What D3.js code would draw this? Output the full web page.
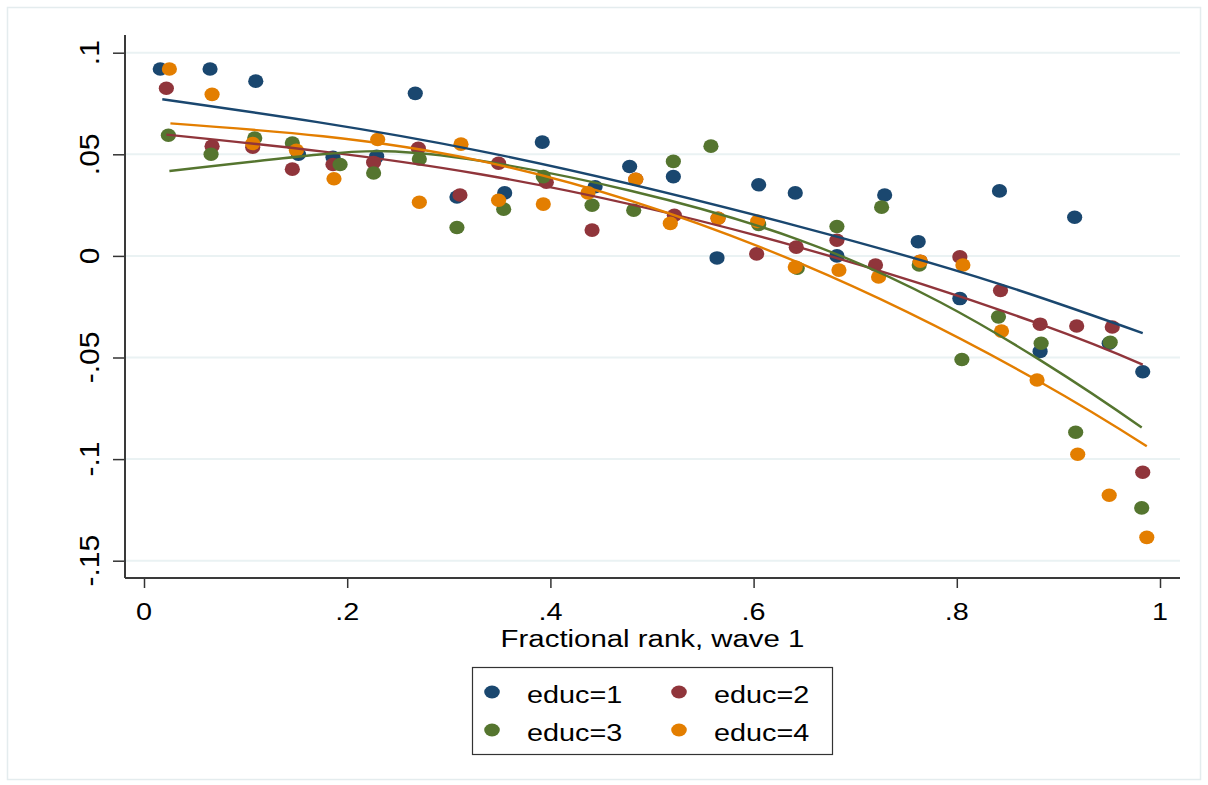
<!DOCTYPE html>
<html>
<head>
<meta charset="utf-8">
<script src="https://cdn.jsdelivr.net/npm/d3@7"></script>
<style>
  html, body { margin: 0; padding: 0; background: #fff; }
  svg { display: block; font-family: "Liberation Sans", Arial, sans-serif; }
</style>
</head>
<body>
<svg id="chart" width="1208" height="785"></svg>
<script>
// binned means by fractional rank, one array per education group
const educ1 = [[.016,.092],[.065,.092],[.110,.086],[.152,.050],[.186,.0485],[.229,.049],[.267,.080],[.308,.029],[.355,.031],[.392,.056],[.444,.034],[.478,.044],[.521,.039],[.564,-.001],[.605,.035],[.641,.031],[.682,.000],[.729,.030],[.762,.007],[.803,-.021],[.842,.032],[.882,-.047],[.916,.019],[.950,-.043],[.983,-.057]];
const educ2 = [[.022,.0825],[.067,.054],[.107,.0535],[.146,.0427],[.186,.045],[.226,.046],[.270,.053],[.311,.030],[.349,.0456],[.396,.0363],[.441,.0127],[.484,.0377],[.522,.020],[.565,.0185],[.603,.001],[.642,.0043],[.682,.0077],[.720,-.0045],[.764,-.0026],[.803,-.0005],[.843,-.017],[.882,-.0336],[.918,-.0345],[.953,-.035],[.983,-.1065]];
const educ3 = [[.024,.0594],[.066,.050],[.109,.058],[.146,.0555],[.193,.045],[.226,.0408],[.271,.0477],[.308,.014],[.354,.023],[.393,.039],[.441,.0249],[.482,.0225],[.521,.0465],[.558,.054],[.605,.0155],[.643,-.006],[.682,.0145],[.726,.024],[.763,-.0045],[.805,-.051],[.841,-.030],[.883,-.043],[.917,-.0868],[.951,-.0425],[.982,-.124]];
const educ4 = [[.025,.092],[.067,.0795],[.107,.0553],[.150,.052],[.187,.038],[.230,.0573],[.271,.0264],[.312,.055],[.349,.0274],[.393,.0255],[.437,.031],[.484,.0377],[.518,.016],[.565,.0185],[.604,.017],[.641,-.0055],[.684,-.007],[.723,-.0104],[.764,-.0026],[.806,-.0045],[.844,-.037],[.879,-.0611],[.919,-.0976],[.950,-.1178],[.987,-.1385]];

const fit1 = [[.018,.0771],[.33,.0517],[.646,.0143],[.843,-.0140],[.983,-.038]];
const fit2 = [[.022,.0597],[.331,.0402],[.646,.0041],[.882,-.0336],[.983,-.0535]];
const fit3 = [[.025,.0418],[.173,.0499],[.331,.0468],[.646,.0077],[.882,-.0513],[.982,-.0845]];
const fit4 = [[.026,.0652],[.331,.0468],[.646,-.0037],[.879,-.0612],[.987,-.0937]];

const labels = ["educ=1", "educ=2", "educ=3", "educ=4"];
const xTicks = [0, .2, .4, .6, .8, 1];
const xTickLabels = ["0", ".2", ".4", ".6", ".8", "1"];
const yTicks = [.1, .05, 0, -.05, -.1, -.15];
const yTickLabels = [".1", ".05", "0", "-.05", "-.1", "-.15"];

const COLORS = ["#1a476f", "#90353b", "#55752f", "#e37e00"];
const STRETCH = 1.2;   // the original's text is drawn a little wide

const svg = d3.select("#chart");
const plot = { left: 125, right: 1180, top: 35, bottom: 578 };

const x = d3.scaleLinear().domain([0, 1]).range([144, 1160]);
const y = d3.scaleLinear().domain([-0.15, 0.1]).range([560.7, 52.7]);

// light outer frame
svg.append("rect")
  .attr("x", 7.5).attr("y", 7.5)
  .attr("width", 1193).attr("height", 772)
  .attr("fill", "#fff")
  .attr("stroke", "#e4ecee")
  .attr("stroke-width", 1.5);

// gridlines
svg.append("g")
  .selectAll("line")
  .data(yTicks)
  .join("line")
  .attr("x1", plot.left + 1).attr("x2", plot.right)
  .attr("y1", d => y(d)).attr("y2", d => y(d))
  .attr("stroke", "#eaf2f3")
  .attr("stroke-width", 2);

// y axis
const yAxis = svg.append("g")
  .attr("transform", `translate(${plot.left},0)`)
  .call(d3.axisLeft(y).tickValues(yTicks).tickSize(12).tickFormat(""));
yAxis.select(".domain").remove();
yAxis.selectAll(".tick line").attr("stroke", "#333").attr("stroke-width", 1.5);
yAxis.append("line")
  .attr("x1", 0).attr("x2", 0)
  .attr("y1", plot.top).attr("y2", plot.bottom)
  .attr("stroke", "#3a3a3a").attr("stroke-width", 2);

svg.append("g")
  .selectAll("text")
  .data(yTicks)
  .join("text")
  .attr("transform", d => `translate(99,${y(d)}) rotate(-90) scale(${STRETCH},1.08)`)
  .attr("text-anchor", "middle")
  .style("font-size", "25px")
  .style("fill", "#000")
  .text((d, i) => yTickLabels[i]);

// x axis
const xAxis = svg.append("g")
  .attr("transform", `translate(0,${plot.bottom})`)
  .call(d3.axisBottom(x).tickValues(xTicks).tickSize(10).tickFormat(""));
xAxis.select(".domain").remove();
xAxis.selectAll(".tick line").attr("stroke", "#333").attr("stroke-width", 1.5);
xAxis.append("line")
  .attr("x1", plot.left).attr("x2", plot.right)
  .attr("y1", 0).attr("y2", 0)
  .attr("stroke", "#3a3a3a").attr("stroke-width", 2);

svg.append("g")
  .selectAll("text")
  .data(xTicks)
  .join("text")
  .attr("transform", d => `translate(${x(d)},620) scale(${STRETCH},1)`)
  .attr("text-anchor", "middle")
  .style("font-size", "24px")
  .style("fill", "#000")
  .text((d, i) => xTickLabels[i]);

svg.append("text")
  .attr("transform", `translate(${(plot.left + plot.right) / 2},647) scale(${STRETCH},1)`)
  .attr("text-anchor", "middle")
  .style("font-size", "24.5px")
  .style("fill", "#000")
  .text("Fractional rank, wave 1");

// scatter
const series = [educ1, educ2, educ3, educ4];
series.forEach((pts, i) => {
  svg.append("g")
    .selectAll("ellipse")
    .data(pts)
    .join("ellipse")
    .attr("cx", d => x(d[0]))
    .attr("cy", d => y(d[1]))
    .attr("rx", 7.6)
    .attr("ry", 6.8)
    .attr("fill", COLORS[i]);
});

// fit lines on top
const line = d3.line()
  .x(d => x(d[0]))
  .y(d => y(d[1]))
  .curve(d3.curveNatural);
[fit1, fit2, fit3, fit4].forEach((pts, i) => {
  svg.append("path")
    .datum(pts)
    .attr("d", line)
    .attr("fill", "none")
    .attr("stroke", COLORS[i])
    .attr("stroke-width", 2.4);
});

// legend
const legend = svg.append("g").attr("transform", "translate(472,667)");
legend.append("rect")
  .attr("x", 0.5).attr("y", 0.5)
  .attr("width", 360).attr("height", 87)
  .attr("fill", "#fff")
  .attr("stroke", "#333")
  .attr("stroke-width", 1.2);
const items = legend.selectAll(".item")
  .data(labels)
  .join("g")
  .classed("item", true)
  .attr("transform", (d, i) => `translate(${i % 2 ? 207 : 20},${i < 2 ? 25 : 63})`);
items.append("ellipse")
  .attr("rx", 7.8).attr("ry", 6.4)
  .attr("fill", (d, i) => COLORS[i]);
items.append("text")
  .attr("transform", `translate(35,11) scale(${STRETCH},1)`)
  .style("font-size", "24px")
  .style("fill", "#000")
  .text(d => d);
</script>
</body>
</html>
